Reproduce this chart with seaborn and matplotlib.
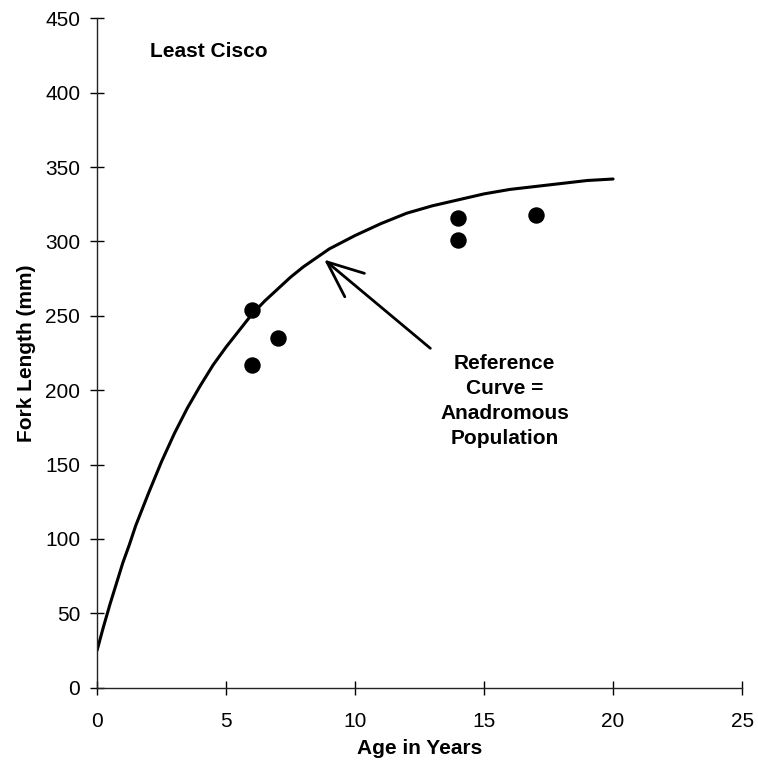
import matplotlib
matplotlib.use("Agg")
import matplotlib.pyplot as plt
import seaborn as sns
import pandas as pd

# Reference curve (anadromous population)
curve_age = [0, 0.25, 0.5, 0.75, 1, 1.25, 1.5, 1.75, 2, 2.5, 3, 3.5, 4, 4.5, 5, 5.5, 6, 6.5, 7, 7.5,
             8, 9, 10, 11, 12, 13, 14, 15, 16, 17, 18, 19, 20]
curve_len = [25, 41, 56, 70, 84, 96, 109, 120, 131, 152, 171, 188, 203, 217, 229, 240, 251, 260, 268, 276,
             283, 295, 304, 312, 319, 324, 328, 332, 335, 337, 339, 341, 342]

# Observed least cisco
obs_age = [6, 6, 7, 14, 14, 17]
obs_len = [254, 217, 235, 316, 301, 318]

x_ticks = [0, 5, 10, 15, 20, 25]
y_ticks = [0, 50, 100, 150, 200, 250, 300, 350, 400, 450]

sns.set_theme(style="ticks")
plt.rcParams['font.family'] = ['Liberation Sans', 'DejaVu Sans']
plt.rcParams['text.color'] = 'black'
plt.rcParams['axes.labelcolor'] = 'black'

fig = plt.figure(figsize=(7.58, 7.65), dpi=100)
ax = fig.add_axes([0.128, 0.101, 0.851, 0.875])

curve_df = pd.DataFrame({"age": curve_age, "len": curve_len})
obs_df = pd.DataFrame({"age": obs_age, "len": obs_len})

sns.lineplot(data=curve_df, x="age", y="len", ax=ax, color="black", linewidth=2.2, sort=False)
sns.scatterplot(data=obs_df, x="age", y="len", ax=ax, color="black", s=140, edgecolor="black", linewidth=0, zorder=5)

ax.set_xlim(0, 25)
ax.set_ylim(0, 450)
ax.set_xticks(x_ticks)
ax.set_yticks(y_ticks)
ax.tick_params(axis="both", direction="inout", length=10, width=1, colors="black",
               labelcolor="black", labelsize=15, bottom=True, left=True)
ax.tick_params(axis="x", pad=12.5)
ax.tick_params(axis="y", pad=7)

for s in ["top", "right"]:
    ax.spines[s].set_visible(False)
for s in ["left", "bottom"]:
    ax.spines[s].set_color("#222222")
    ax.spines[s].set_linewidth(1.0)

ax.set_xlabel("Age in Years", fontsize=15, fontweight="bold", labelpad=6, color="black")
ax.set_ylabel("Fork Length (mm)", fontsize=15, fontweight="bold", labelpad=7, color="black")

ax.text(2.05, 428, "Least Cisco", fontsize=15, fontweight="bold", ha="left", va="center", color="black")

ax.annotate("", xy=(8.72, 289), xytext=(13.0, 227),
            arrowprops=dict(arrowstyle="->,head_length=1.3,head_width=0.55", color="black", lw=2.0, mutation_scale=20))
ax.text(15.8, 193, "Reference\nCurve =\nAnadromous\nPopulation", fontsize=15, fontweight="bold",
        ha="center", va="center", linespacing=1.4, color="black")

fig.savefig("out.png", dpi=100)
